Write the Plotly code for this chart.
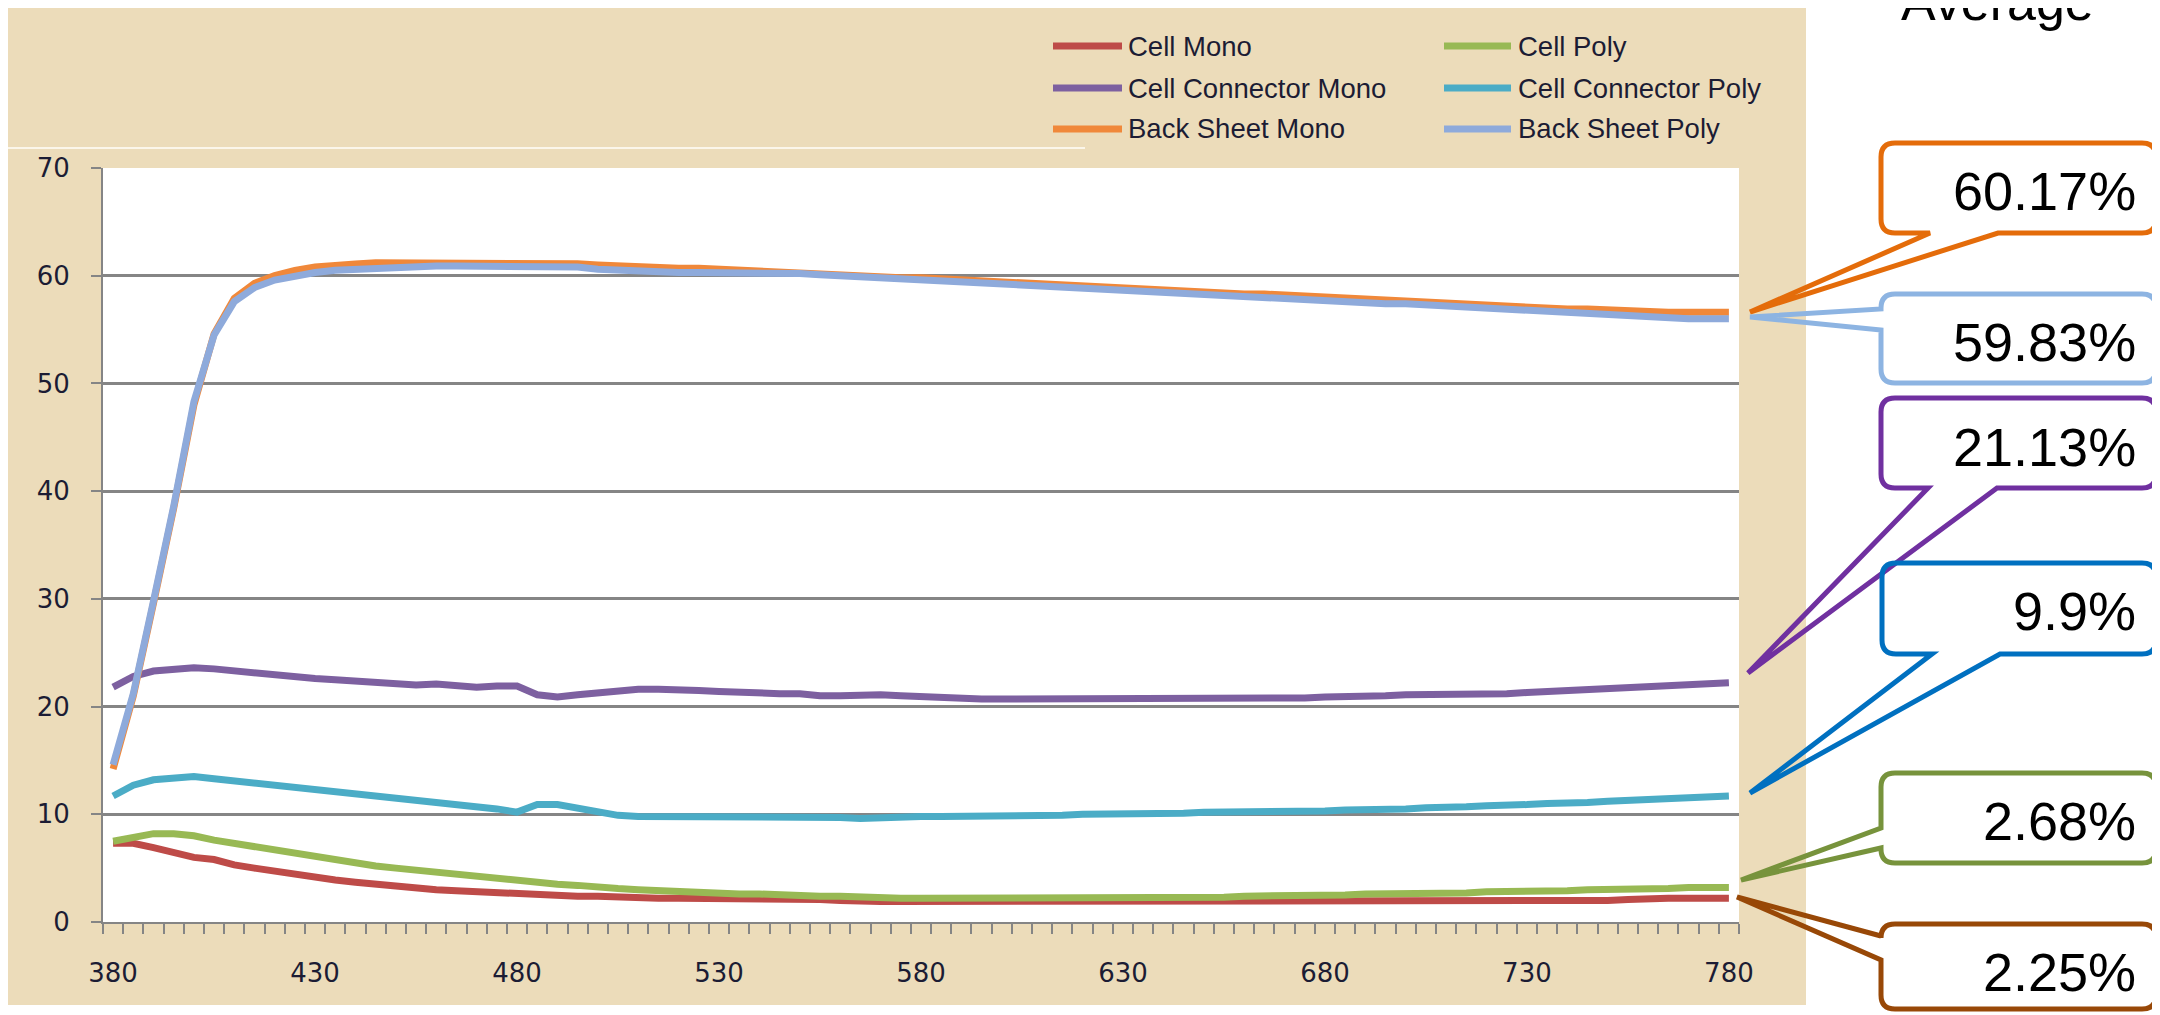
import plotly.graph_objects as go

# ---------------- data ----------------
wavelength = list(range(380, 785, 5))

series_names = ["Cell Mono", "Cell Poly", "Cell Connector Mono",
                "Cell Connector Poly", "Back Sheet Mono", "Back Sheet Poly"]

cell_mono = [7.3, 7.3, 6.9, 6.4, 6.0, 5.8, 5.3, 5.0, 4.7, 4.4,
             4.1, 3.9, 3.7, 3.5, 3.3, 3.2, 3.0, 2.9, 2.8, 2.7,
             2.6, 2.6, 2.5, 2.4, 2.4, 2.3, 2.3, 2.2, 2.2, 2.2,
             2.1, 2.1, 2.1, 2.1, 2.1, 2.1, 2.0, 1.9, 1.9, 1.9,
             1.9, 1.9, 1.9, 1.9, 1.9, 1.9, 1.9, 1.9, 1.9, 1.9,
             1.9, 1.9, 1.9, 1.9, 1.9, 1.9, 1.9, 1.9, 1.9, 1.9,
             1.9, 2.0, 2.0, 2.0, 2.0, 2.0, 2.0, 2.0, 2.0, 2.0,
             2.0, 2.0, 2.0, 2.0, 2.0, 2.1, 2.2, 2.2, 2.2, 2.2,
             2.2]

cell_poly = [7.5, 7.9, 8.2, 8.2, 8.0, 7.6, 7.3, 6.9, 6.6, 6.3,
             6.0, 5.8, 5.5, 5.2, 5.0, 4.8, 4.6, 4.4, 4.2, 4.0,
             3.9, 3.7, 3.5, 3.4, 3.2, 3.1, 3.0, 2.9, 2.9, 2.8,
             2.7, 2.6, 2.6, 2.5, 2.5, 2.4, 2.4, 2.3, 2.2, 2.2,
             2.2, 2.2, 2.2, 2.2, 2.2, 2.2, 2.2, 2.2, 2.2, 2.2,
             2.2, 2.2, 2.2, 2.3, 2.3, 2.3, 2.4, 2.4, 2.4, 2.4,
             2.4, 2.5, 2.6, 2.6, 2.6, 2.7, 2.7, 2.7, 2.8, 2.8,
             2.9, 2.9, 2.9, 3.0, 3.0, 3.0, 3.1, 3.1, 3.2, 3.2,
             3.2]

connector_mono = [21.8, 22.8, 23.3, 23.5, 23.6, 23.5, 23.3, 23.1, 22.9, 22.8,
                  22.6, 22.5, 22.4, 22.2, 22.1, 22.0, 22.1, 22.0, 21.8, 21.9,
                  21.9, 21.1, 20.9, 21.1, 21.3, 21.5, 21.6, 21.6, 21.6, 21.5,
                  21.4, 21.3, 21.2, 21.2, 21.2, 21.0, 21.0, 21.1, 21.1, 21.0,
                  20.9, 20.8, 20.7, 20.7, 20.7, 20.7, 20.7, 20.7, 20.7, 20.7,
                  20.7, 20.7, 20.7, 20.7, 20.7, 20.7, 20.7, 20.7, 20.7, 20.8,
                  20.9, 20.9, 21.0, 21.0, 21.1, 21.1, 21.1, 21.1, 21.2, 21.2,
                  21.3, 21.4, 21.5, 21.6, 21.6, 21.7, 21.8, 21.9, 22.0, 22.1,
                  22.2]

connector_poly = [11.7, 12.7, 13.2, 13.4, 13.5, 13.3, 13.1, 12.9, 12.7, 12.5,
                  12.3, 12.2, 12.0, 11.8, 11.6, 11.4, 11.2, 11.0, 10.8, 10.5,
                  10.2, 10.9, 10.9, 10.6, 10.2, 9.9, 9.8, 9.8, 9.8, 9.8,
                  9.8, 9.8, 9.8, 9.8, 9.8, 9.8, 9.7, 9.6, 9.7, 9.8,
                  9.8, 9.8, 9.8, 9.8, 9.8, 9.8, 9.8, 9.9, 10.0, 10.0,
                  10.0, 10.0, 10.1, 10.1, 10.2, 10.2, 10.2, 10.3, 10.3, 10.3,
                  10.3, 10.4, 10.4, 10.5, 10.5, 10.6, 10.6, 10.7, 10.8, 10.8,
                  10.9, 11.0, 11.0, 11.1, 11.2, 11.3, 11.4, 11.5, 11.6, 11.6,
                  11.7]

backsheet_mono = [14.2, 21.0, 29.6, 38.4, 48.0, 54.6, 57.9, 59.3, 60.0, 60.5,
                  60.8, 61.0, 61.1, 61.2, 61.2, 61.2, 61.2, 61.2, 61.2, 61.2,
                  61.2, 61.2, 61.2, 61.1, 61.0, 60.9, 60.9, 60.8, 60.7, 60.7,
                  60.6, 60.5, 60.5, 60.4, 60.3, 60.2, 60.1, 60.0, 59.9, 59.8,
                  59.8, 59.7, 59.6, 59.5, 59.4, 59.3, 59.2, 59.1, 59.0, 58.9,
                  58.9, 58.8, 58.7, 58.6, 58.5, 58.4, 58.3, 58.3, 58.2, 58.1,
                  58.0, 57.9, 57.8, 57.7, 57.7, 57.6, 57.5, 57.4, 57.3, 57.2,
                  57.1, 57.0, 56.9, 56.9, 56.8, 56.7, 56.6, 56.6, 56.6, 56.6,
                  56.6]

backsheet_poly = [14.6, 21.2, 29.8, 38.6, 48.3, 54.5, 57.6, 58.9, 59.6, 60.0,
                  60.3, 60.5, 60.6, 60.7, 60.8, 60.9, 60.9, 60.9, 60.9, 60.9,
                  60.9, 60.9, 60.9, 60.8, 60.6, 60.5, 60.4, 60.4, 60.3, 60.3,
                  60.3, 60.3, 60.3, 60.3, 60.2, 60.1, 60.0, 59.9, 59.8, 59.7,
                  59.6, 59.5, 59.4, 59.3, 59.2, 59.1, 59.0, 58.9, 58.8, 58.7,
                  58.6, 58.5, 58.4, 58.3, 58.2, 58.1, 58.0, 58.0, 57.9, 57.8,
                  57.7, 57.6, 57.5, 57.4, 57.4, 57.3, 57.2, 57.1, 57.0, 56.9,
                  56.8, 56.7, 56.6, 56.5, 56.4, 56.3, 56.1, 56.0, 56.0, 56.0,
                  56.0]

x_tick_values = [380, 430, 480, 530, 580, 630, 680, 730, 780]
y_tick_values = [0, 10, 20, 30, 40, 50, 60, 70]

average_title = "Average"
average_labels = ["60.17%", "59.83%", "21.13%", "9.9%", "2.68%", "2.25%"]

# ---------------- styling ----------------
series_values = [cell_mono, cell_poly, connector_mono, connector_poly,
                 backsheet_mono, backsheet_poly]
series_colors = ["#BE4B48", "#98B954", "#7D60A0", "#4BACC6", "#F0883A", "#8EAADB"]

# screen geometry (page body has an 8px margin)
OFF = 8
SW, SH = 2160, 1015
W, H = SW - OFF, SH - OFF
L, R, T, B = 103, 1739, 168, 922      # plot area in screen pixels
PW, PH = R - L, B - T


def px(x):
    return (x - L) / PW


def py(y):
    return (B - y) / PH


TEXT_DARK = "#1C1C34"
GRID = "#858585"

fig = go.Figure()
for name, vals, col in zip(series_names, series_values, series_colors):
    fig.add_trace(go.Scatter(x=wavelength, y=vals, name=name, mode="lines",
                             line=dict(color=col, width=7), showlegend=False))

shapes = []
annotations = []

# textured slide panel and white plot area
shapes.append(dict(type="rect", xref="paper", yref="paper", layer="below",
                   x0=px(OFF), x1=px(1806), y0=py(1005), y1=py(OFF),
                   fillcolor="#ECDCBA", line=dict(width=0)))
shapes.append(dict(type="line", xref="paper", yref="paper", layer="below",
                   x0=px(OFF), x1=px(1085), y0=py(148), y1=py(148),
                   line=dict(color="#FBF6EA", width=2)))
shapes.append(dict(type="rect", xref="paper", yref="paper", layer="below",
                   x0=0, x1=1, y0=0, y1=1,
                   fillcolor="white", line=dict(width=0)))

# manual legend (two columns)
legend_cols = [(1053, 1122, 1126), (1444, 1511, 1516)]
legend_rows = [(46, 46.5), (88, 89), (129, 128.5)]
order = [(0, 0, 0), (1, 0, 1), (2, 1, 0), (3, 1, 1), (4, 2, 0), (5, 2, 1)]
for idx, row, colm in order:
    lx0, lx1, tx = legend_cols[colm]
    ly, ty = legend_rows[row]
    shapes.append(dict(type="line", xref="paper", yref="paper",
                       x0=px(lx0), x1=px(lx1), y0=py(ly), y1=py(ly),
                       line=dict(color=series_colors[idx], width=7)))
    annotations.append(dict(xref="paper", yref="paper", x=px(tx), y=py(ty),
                            xanchor="left", yanchor="middle", showarrow=False,
                            text=series_names[idx],
                            font=dict(family="Liberation Sans, Arial, sans-serif",
                                      size=27.5, color=TEXT_DARK)))


def callout_bottom(x0, y0, x1, y1, xa, xb, tx, ty, r=14):
    pts = [f"M{px(x0 + r)},{py(y0)}", f"L{px(x1 - r)},{py(y0)}",
           f"Q{px(x1)},{py(y0)} {px(x1)},{py(y0 + r)}",
           f"L{px(x1)},{py(y1 - r)}",
           f"Q{px(x1)},{py(y1)} {px(x1 - r)},{py(y1)}",
           f"L{px(xb)},{py(y1)}", f"L{px(tx)},{py(ty)}", f"L{px(xa)},{py(y1)}",
           f"L{px(x0 + r)},{py(y1)}",
           f"Q{px(x0)},{py(y1)} {px(x0)},{py(y1 - r)}",
           f"L{px(x0)},{py(y0 + r)}",
           f"Q{px(x0)},{py(y0)} {px(x0 + r)},{py(y0)}", "Z"]
    return " ".join(pts)


def callout_left(x0, y0, x1, y1, ya, yb, tx, ty, r=14):
    pts = [f"M{px(x0 + r)},{py(y0)}", f"L{px(x1 - r)},{py(y0)}",
           f"Q{px(x1)},{py(y0)} {px(x1)},{py(y0 + r)}",
           f"L{px(x1)},{py(y1 - r)}",
           f"Q{px(x1)},{py(y1)} {px(x1 - r)},{py(y1)}",
           f"L{px(x0 + r)},{py(y1)}",
           f"Q{px(x0)},{py(y1)} {px(x0)},{py(y1 - r)}",
           f"L{px(x0)},{py(yb)}", f"L{px(tx)},{py(ty)}", f"L{px(x0)},{py(ya)}",
           f"L{px(x0)},{py(y0 + r)}",
           f"Q{px(x0)},{py(y0)} {px(x0 + r)},{py(y0)}", "Z"]
    return " ".join(pts)


callouts = [
    ("#E46C0A", callout_bottom(1881, 143, 2156, 233, 1930, 1998, 1750, 312), 191),
    ("#8DB4E2", callout_left(1881, 294, 2156, 383, 309, 330, 1750, 317), 341.5),
    ("#7030A0", callout_bottom(1881, 398, 2156, 488, 1928, 1997, 1748, 673), 447),
    ("#0070C0", callout_bottom(1882, 563, 2156, 654, 1932, 2000, 1750, 793), 611),
    ("#77933C", callout_left(1881, 773, 2156, 863, 828, 848, 1741, 880), 821),
    ("#984807", callout_left(1881, 924, 2156, 1009, 936, 960, 1737, 897), 972),
]
for (col, path, ty), lab in zip(callouts, average_labels):
    shapes.append(dict(type="path", xref="paper", yref="paper", path=path,
                       line=dict(color=col, width=5), fillcolor="rgba(0,0,0,0)"))
    annotations.append(dict(xref="paper", yref="paper", x=px(2138), y=py(ty),
                            xanchor="right", yanchor="middle", showarrow=False,
                            text=lab, font=dict(family="Liberation Sans, Arial, sans-serif",
                                                size=54, color="black")))

annotations.append(dict(xref="paper", yref="paper", x=px(1997), y=py(2),
                        xanchor="center", yanchor="middle", showarrow=False,
                        text=average_title,
                        font=dict(family="Liberation Sans, Arial, sans-serif",
                                  size=52, color="black")))

fig.update_layout(
    width=W, height=H,
    margin=dict(l=L - OFF, r=SW - R, t=T - OFF, b=SH - B, pad=0),
    paper_bgcolor="white", plot_bgcolor="white",
    showlegend=False,
    shapes=shapes, annotations=annotations,
    xaxis=dict(range=[377.5, 782.5], tickmode="array", tickvals=x_tick_values,
               ticktext=[str(v) for v in x_tick_values], ticks="",
               showgrid=False, zeroline=False, showline=True,
               linecolor=GRID, linewidth=2,
               ticklabelstandoff=27,
               tickfont=dict(family="DejaVu Sans, Verdana, sans-serif", size=26, color=TEXT_DARK),
               minor=dict(ticks="outside", tickmode="linear", tick0=377.5, dtick=5,
                          ticklen=10, tickwidth=1.5, tickcolor=GRID, showgrid=False)),
    yaxis=dict(range=[0, 70], tickmode="array", tickvals=y_tick_values,
               ticktext=[str(v) for v in y_tick_values],
               ticks="outside", ticklen=10, tickwidth=1.5, tickcolor=GRID,
               showgrid=True, gridcolor=GRID, gridwidth=2.5,
               zeroline=False, showline=True, linecolor=GRID, linewidth=2,
               ticklabelstandoff=16,
               tickfont=dict(family="DejaVu Sans, Verdana, sans-serif", size=26, color=TEXT_DARK)),
)

fig.write_html("out.html")
